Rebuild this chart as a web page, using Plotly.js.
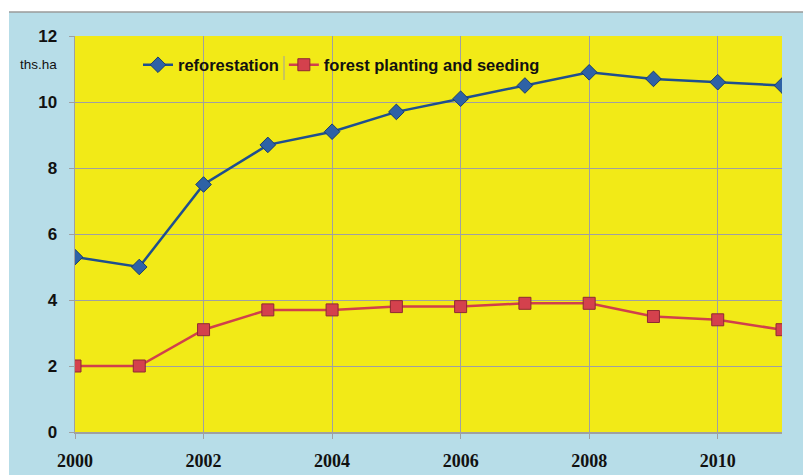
<!DOCTYPE html>
<html>
<head>
<meta charset="utf-8">
<script src="https://cdn.plot.ly/plotly-3.0.1.min.js"></script>
<style>html,body{margin:0;padding:0;background:#fff;}#chart{width:803px;height:475px;}</style>
</head>
<body>
<div id="chart"></div>
<script>
const years = [2000, 2001, 2002, 2003, 2004, 2005, 2006, 2007, 2008, 2009, 2010, 2011];
const reforestation = [5.3, 5.0, 7.5, 8.7, 9.1, 9.7, 10.1, 10.5, 10.9, 10.7, 10.6, 10.5];
const plantingSeeding = [2.0, 2.0, 3.1, 3.7, 3.7, 3.8, 3.8, 3.9, 3.9, 3.5, 3.4, 3.1];
const seriesNames = ['reforestation', 'forest planting and seeding'];
const yUnit = 'ths.ha';

const traces = [
  {
    x: years, y: reforestation, name: seriesNames[0], type: 'scatter', mode: 'lines+markers',
    line: {color: '#1f4f8f', width: 2.5},
    marker: {symbol: 'diamond', size: 12, color: '#2e62a6', line: {color: '#173d6e', width: 1}}
  },
  {
    x: years, y: plantingSeeding, name: seriesNames[1], type: 'scatter', mode: 'lines+markers',
    line: {color: '#d0404c', width: 2.5},
    marker: {symbol: 'square', size: 12, color: '#d4414d', line: {color: '#8e2a33', width: 1}}
  }
];

const L = 75, R = 782, T = 36, B = 432, W = 803, H = 475;
const px = v => (v - L) / (R - L);
const py = v => (B - v) / (B - T);

const layout = {
  width: W, height: H,
  margin: {l: L, r: W - R, t: T, b: H - B, pad: 0},
  paper_bgcolor: '#b7dde8',
  plot_bgcolor: '#f2ea17',
  showlegend: true,
  legend: {
    orientation: 'h', x: px(138), y: py(65), xanchor: 'left', yanchor: 'middle',
    bgcolor: 'rgba(0,0,0,0)', borderwidth: 0,
    font: {family: 'Liberation Sans, Arial, sans-serif', size: 16.5, color: '#111', weight: 'bold'},
    itemwidth: 30
  },
  xaxis: {
    range: [2000, 2011], tick0: 2000, dtick: 2, showgrid: true, gridcolor: '#a0a0a0', gridwidth: 1,
    showline: true, linecolor: '#a0a0a0', linewidth: 1.5, zeroline: false,
    ticks: 'outside', ticklen: 5, tickcolor: '#a0a0a0',
    tickfont: {family: 'Liberation Serif, Times New Roman, serif', size: 18, color: '#111', weight: 'bold'},
    ticklabelstandoff: 7
  },
  yaxis: {
    range: [0, 12], tick0: 0, dtick: 2, showgrid: true, gridcolor: '#a0a0a0', gridwidth: 1,
    showline: true, linecolor: '#a0a0a0', linewidth: 1.5, zeroline: false,
    ticks: 'outside', ticklen: 5, tickcolor: '#a0a0a0',
    tickfont: {family: 'Liberation Sans, Arial, sans-serif', size: 17, color: '#111', weight: 'bold'},
    ticklabelstandoff: 8
  },
  shapes: [
    {type: 'rect', xref: 'paper', yref: 'paper', x0: px(138), x1: px(550), y0: py(86), y1: py(40), fillcolor: '#f2ea17', line: {width: 0}, layer: 'between'},
    {type: 'rect', xref: 'paper', yref: 'paper', x0: px(0), x1: px(W), y0: py(0), y1: py(12), fillcolor: '#ffffff', line: {width: 0}, layer: 'above'},
    {type: 'rect', xref: 'paper', yref: 'paper', x0: px(0), x1: px(9), y0: py(0), y1: py(H), fillcolor: '#ffffff', line: {width: 0}, layer: 'above'},
    {type: 'line', xref: 'paper', yref: 'paper', x0: px(9), x1: px(W), y0: py(12), y1: py(12), line: {color: '#9a9a9a', width: 1.5}, layer: 'above'},
    {type: 'line', xref: 'paper', yref: 'paper', x0: px(284), x1: px(284), y0: py(56), y1: py(80), line: {color: '#a0a0a0', width: 1}, layer: 'above'}
  ],
  annotations: [
    {text: yUnit, xref: 'paper', yref: 'paper', x: px(38), y: py(65), xanchor: 'center', yanchor: 'middle', showarrow: false,
     font: {family: 'Liberation Sans, Arial, sans-serif', size: 13.5, color: '#111'}}
  ]
};

Plotly.newPlot('chart', traces, layout, {displayModeBar: false, staticPlot: true});
</script>
</body>
</html>
